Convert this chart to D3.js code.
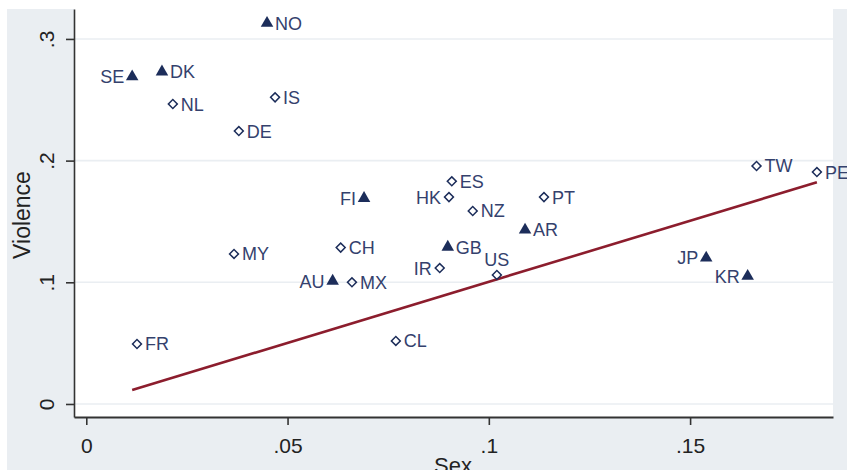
<!DOCTYPE html>
<html>
<head>
<meta charset="utf-8">
<script src="https://cdn.jsdelivr.net/npm/d3@7"></script>
<style>
  body { margin: 0; background: #fff; }
  svg { display: block; font-family: "Liberation Sans", Arial, sans-serif; }
</style>
</head>
<body>
<figure style="margin:0"></figure>
<script>

// country codes, x = Sex, y = Violence
const countries = ["NO", "SE", "DK", "NL", "IS", "DE", "FI", "ES", "HK", "NZ", "PT", "AR", "TW", "PE",
  "MY", "CH", "GB", "IR", "US", "AU", "MX", "JP", "KR", "FR", "CL"]
const sexValues = [0.0449, 0.0114, 0.0188, 0.0215, 0.0469, 0.0379, 0.0690, 0.0908, 0.0901, 0.0960, 0.1137, 0.1090, 0.1665, 0.1815,
  0.0367, 0.0632, 0.0898, 0.0878, 0.1020, 0.0612, 0.0660, 0.1540, 0.1643, 0.0126, 0.0769]
const violenceValues = [0.313, 0.269, 0.273, 0.2465, 0.252, 0.2243, 0.169, 0.183, 0.170, 0.1586, 0.170, 0.143, 0.1956, 0.1906,
  0.1233, 0.1285, 0.129, 0.1117, 0.106, 0.101, 0.100, 0.1200, 0.105, 0.0493, 0.0518]
// "tri" = filled triangle, "dia" = hollow diamond
const markerType = ["tri", "tri", "tri", "dia", "dia", "dia", "tri", "dia", "dia", "dia", "dia", "tri", "dia", "dia",
  "dia", "dia", "tri", "dia", "dia", "tri", "dia", "tri", "tri", "dia", "dia"]
// label position: r = right, l = left, t = top
const labelPos = ["r", "l", "r", "r", "r", "r", "l", "r", "l", "r", "r", "r", "r", "r",
  "r", "r", "r", "l", "t", "l", "r", "l", "l", "r", "r"]

// fitted line end points
const fitX = [0.0114, 0.1815]
const fitY = [0.0115, 0.1822]

const xTicks = [0, 0.05, 0.1, 0.15]
const yTicks = [0, 0.1, 0.2, 0.3]
const xTickLabels = ["0", ".05", ".1", ".15"]
const yTickLabels = ["0", ".1", ".2", ".3"]

////////////////////////////////////
///////////// SVG Setup ////////////
////////////////////////////////////

const svgWidth = 847
const svgHeight = 470

const plot = { left: 74, right: 833, top: 9, bottom: 417 }

const svg = d3.select('figure')
  .append('svg')
  .attr('width', svgWidth)
  .attr('height', svgHeight)

// outer graph region
svg.append('rect')
  .attr('x', 7).attr('y', 9)
  .attr('width', svgWidth - 7).attr('height', svgHeight - 9)
  .attr('fill', '#eaeef2')

// inner plot region
svg.append('rect')
  .attr('x', plot.left).attr('y', plot.top)
  .attr('width', plot.right - plot.left).attr('height', plot.bottom - plot.top)
  .attr('fill', '#ffffff')

////////////////////////////////////
///////// Scales ////////////////////
////////////////////////////////////

const x = d3.scaleLinear()
  .domain([-0.00305, 0.1855])
  .range([plot.left, plot.right])

const y = d3.scaleLinear()
  .domain([-0.0107, 0.3246])
  .range([plot.bottom, plot.top])

// grid lines
svg.append('g')
  .selectAll('line')
  .data(yTicks)
  .enter().append('line')
  .attr('x1', plot.left).attr('x2', plot.right)
  .attr('y1', d => y(d)).attr('y2', d => y(d))
  .attr('stroke', '#eaeef2')
  .attr('stroke-width', 1.6)

// Y axis
const yAxis = svg.append('g')
  .attr('transform', `translate(${plot.left},0)`)
  .call(d3.axisLeft(y).tickValues(yTicks).tickSize(8).tickSizeOuter(0)
    .tickFormat((d, i) => yTickLabels[i]))
yAxis.select('.domain').attr('stroke', '#333').attr('stroke-width', 1.6)
yAxis.selectAll('.tick line').attr('stroke', '#333').attr('stroke-width', 1.6)
yAxis.selectAll('.tick text')
  .attr('transform', 'rotate(-90)')
  .attr('x', 0).attr('y', -20).attr('dy', 0)
  .style('text-anchor', 'middle')
  .style('font-size', '21px')
  .style('fill', '#222')

// X axis
const xAxis = svg.append('g')
  .attr('transform', `translate(0,${plot.bottom})`)
  .call(d3.axisBottom(x).tickValues(xTicks).tickSize(8).tickSizeOuter(0)
    .tickFormat((d, i) => xTickLabels[i]))
xAxis.select('.domain').attr('stroke', '#333').attr('stroke-width', 2)
xAxis.selectAll('.tick line').attr('stroke', '#333').attr('stroke-width', 1.6)
xAxis.selectAll('.tick text')
  .attr('y', 36).attr('dy', 0)
  .style('font-size', '21px')
  .style('fill', '#222')

////////////////////////////////////
///////// Draw ////////////////////
////////////////////////////////////

// fitted line
svg.append('line')
  .attr('x1', x(fitX[0])).attr('y1', y(fitY[0]))
  .attr('x2', x(fitX[1])).attr('y2', y(fitY[1]))
  .attr('stroke', '#8c1d2d')
  .attr('stroke-width', 2.6)

const points = countries.map((c, i) => ({
  name: c, sx: sexValues[i], vy: violenceValues[i], type: markerType[i], pos: labelPos[i]
}))

const triangle = d3.symbol().type(d3.symbolTriangle).size(68)
const diamond = d3.symbol().type(d3.symbolSquare).size(40)

const markers = svg.append('g')
  .selectAll('path')
  .data(points)
  .enter().append('path')
  .attr('transform', d => d.type == 'tri'
    ? `translate(${x(d.sx)},${y(d.vy)})`
    : `translate(${x(d.sx)},${y(d.vy)}) rotate(45)`)
  .attr('d', d => d.type == 'tri' ? triangle() : diamond())
  .attr('fill', d => d.type == 'tri' ? '#1c2d5a' : 'none')
  .attr('stroke', '#1c2d5a')
  .attr('stroke-width', d => d.type == 'tri' ? 0 : 1.5)

svg.append('g')
  .selectAll('text')
  .data(points)
  .enter().append('text')
  .attr('x', d => d.pos == 'r' ? x(d.sx) + 8 : d.pos == 'l' ? x(d.sx) - 8 : x(d.sx))
  .attr('y', d => d.pos == 't' ? y(d.vy) - 9 : y(d.vy) + 6.5)
  .style('text-anchor', d => d.pos == 'r' ? 'start' : d.pos == 'l' ? 'end' : 'middle')
  .style('font-size', '18px')
  .style('fill', '#34416d')
  .text(d => d.name)

////////////////////////////////////
/////////////// Titles /////////////
////////////////////////////////////

svg.append('text')
  .attr('transform', `translate(30,${(plot.top + plot.bottom) / 2 + 2}) rotate(-90)`)
  .style('text-anchor', 'middle')
  .style('font-size', '23px')
  .style('fill', '#222')
  .text('Violence')

svg.append('text')
  .attr('x', 453)
  .attr('y', 473)
  .style('text-anchor', 'middle')
  .style('font-size', '22px')
  .style('fill', '#222')
  .text('Sex')

</script>
</body>
</html>
